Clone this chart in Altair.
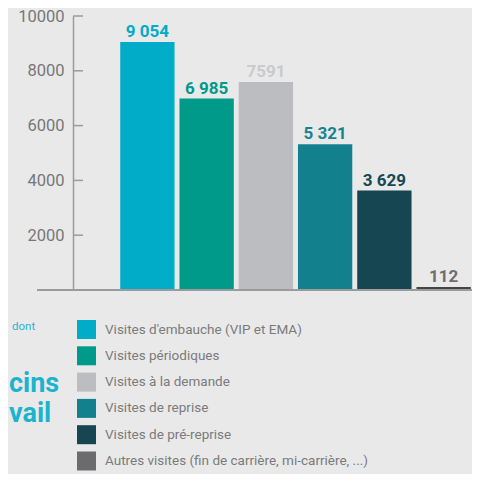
import altair as alt
import pandas as pd

categories = [
    "Visites d'embauche (VIP et EMA)",
    "Visites périodiques",
    "Visites à la demande",
    "Visites de reprise",
    "Visites de pré-reprise",
    "Autres visites (fin de carrière, mi-carrière, ...)",
]
values = [9054, 6985, 7591, 5321, 3629, 112]
value_labels = ["9 054", "6 985", "7591", "5 321", "3 629", "112"]
bar_colors = ["#00acc8", "#009a8a", "#bcbdc1", "#13808e", "#154652", "#6b6b6e"]
label_colors = ["#00acc8", "#009a8a", "#c9cacd", "#17838f", "#174955", "#6e6e71"]
y_ticks = [2000, 4000, 6000, 8000, 10000]
deco_words = ["cins", "vail"]

df = pd.DataFrame({"cat": categories, "val": values, "lab": value_labels, "tcol": label_colors})
ticks_df = pd.DataFrame({"t": y_ticks})

W, H = 353, 274
PADL = 111
FONT = "Roboto"
AX = "#9b9b9b"
AXOFF = 46  # y axis line sits this far left of the plot

xenc = alt.X("cat:N", sort=categories,
             scale=alt.Scale(domain=categories, paddingInner=0.0833, paddingOuter=0.0208),
             axis=None)
yscale = alt.Scale(domain=[0, 10000], nice=False)

bars = alt.Chart(df).mark_bar().encode(
    x=xenc,
    y=alt.Y("val:Q", scale=yscale,
            axis=alt.Axis(values=y_ticks, format="d", ticks=False, offset=AXOFF,
                          domainColor=AX, domainWidth=1.5, labelColor="#777777",
                          labelFontSize=16.5, labelFont=FONT, labelPadding=9,
                          grid=False, title=None, labelFlush=False)),
    color=alt.condition(
        alt.datum.cat == categories[5],
        alt.value("#454547"),
        alt.Color("cat:N", scale=alt.Scale(domain=categories, range=bar_colors),
                  legend=alt.Legend(orient="none", legendX=77 - 8 - PADL, legendY=304,
                                    title=None, symbolType="square", symbolSize=361,
                                    symbolStrokeWidth=0, symbolOpacity=1,
                                    labelFont=FONT, labelFontSize=13.5,
                                    labelColor="#7b7b7b", labelOffset=9,
                                    rowPadding=7.3, padding=0, labelLimit=400)),
    ),
)

texts = alt.Chart(df).mark_text(font=FONT, fontSize=17, fontWeight="bold",
                                baseline="alphabetic", dy=-5).encode(
    x=xenc,
    y=alt.Y("val:Q", scale=yscale),
    text="lab:N",
    color=alt.Color("tcol:N", scale=None),
)

tickmarks = alt.Chart(ticks_df).mark_rule(color=AX, strokeWidth=1.5).encode(
    y=alt.Y("t:Q", scale=yscale),
    x=alt.value(-AXOFF),
    x2=alt.value(-AXOFF + 10),
)

baseline = alt.Chart(df).mark_rule(color=AX, strokeWidth=1.5).encode(
    y=alt.datum(0),
    x=alt.value(37 - 8 - PADL),
    x2=alt.value(W),
)

dont = alt.Chart(pd.DataFrame({"t": ["dont"]})).mark_text(
    font=FONT, fontSize=11.5, color="#2ab5cf", align="left", baseline="alphabetic").encode(
    x=alt.value(12 - 8 - PADL), y=alt.value(314), text="t:N")

big1 = alt.Chart(pd.DataFrame({"t": [deco_words[0]]})).mark_text(
    font=FONT, fontSize=27, fontWeight="bold", color="#1cb3cf",
    align="left", baseline="alphabetic").encode(
    x=alt.value(9 - 8 - PADL), y=alt.value(376), text="t:N")
big2 = alt.Chart(pd.DataFrame({"t": [deco_words[1]]})).mark_text(
    font=FONT, fontSize=27, fontWeight="bold", color="#1cb3cf",
    align="left", baseline="alphabetic").encode(
    x=alt.value(9 - 8 - PADL), y=alt.value(406), text="t:N")

chart = alt.layer(bars, texts, tickmarks, baseline, dont, big1, big2).properties(
    width=W, height=H,
    autosize=alt.AutoSizeParams(type="none"),
    padding={"left": PADL, "top": 8, "right": 0, "bottom": 184},
    background="#e9e9ea",
).configure_view(stroke=None)

chart.save("out.html", embed_options={"renderer": "svg", "actions": False})
